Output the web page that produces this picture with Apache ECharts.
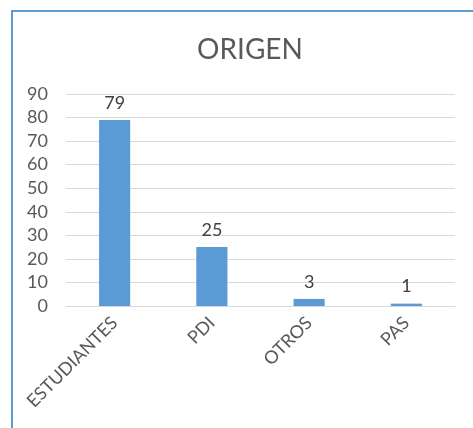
<!DOCTYPE html>
<html>
<head>
<meta charset="utf-8">
<script src="https://cdn.jsdelivr.net/npm/echarts@6/dist/echarts.min.js"></script>
<style>
  html, body { margin: 0; padding: 0; background: #fff; overflow: hidden; }
  #chart { position: absolute; left: 0; top: 0; width: 473px; height: 428px; }
  .frame {
    position: absolute; left: 11px; top: 10px; width: 600px; height: 600px;
    border-left: 2px solid #5b9bd5; border-top: 2px solid #5b9bd5;
    pointer-events: none;
  }
</style>
</head>
<body>
<div id="chart"></div>
<div class="frame"></div>
<script>
// datos del gráfico
const categorias = ['ESTUDIANTES', 'PDI', 'OTROS', 'PAS']
const valores = [79, 25, 3, 1]

const chart = echarts.init(document.getElementById('chart'))

const option = {
  backgroundColor: '#fff',
  animation: false,
  textStyle: { fontFamily: 'Lato' },
  title: {
    text: 'ORIGEN',
    left: 245,
    top: 31,
    textAlign: 'center',
    textStyle: { color: '#595959', fontSize: 28, fontWeight: 'normal', fontFamily: 'Lato' }
  },
  grid: { left: 66, right: 18, top: 94, bottom: 122, containLabel: false },
  xAxis: {
    type: 'category',
    data: categorias,
    axisLine: { lineStyle: { color: '#d9d9d9', width: 1 } },
    axisTick: { show: false },
    axisLabel: { color: '#595959', fontSize: 18, rotate: 45, margin: 14, interval: 0 }
  },
  yAxis: {
    type: 'value',
    min: 0,
    max: 90,
    interval: 10,
    axisLine: { show: false },
    axisTick: { show: false },
    axisLabel: { color: '#595959', fontSize: 18, margin: 18 },
    splitLine: { lineStyle: { color: '#d9d9d9', width: 1 } }
  },
  series: [
    {
      type: 'bar',
      data: valores,
      barWidth: '32%',
      itemStyle: { color: '#5b9bd5' },
      label: {
        show: true,
        position: 'top',
        distance: 8,
        color: '#404040',
        fontSize: 18
      }
    }
  ]
}

chart.setOption(option)
</script>
</body>
</html>
